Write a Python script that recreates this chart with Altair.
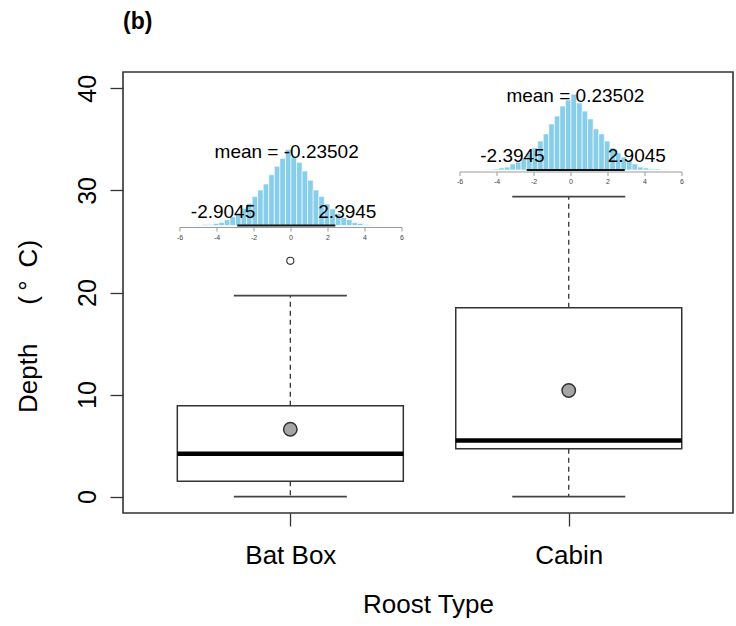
import altair as alt
import pandas as pd

# ---------------- data ----------------
groups = ["Bat Box", "Cabin"]
group_pos = [1, 2]
whisker_low = [0.0, 0.0]
box_q1 = [1.5, 4.7]
box_median = [4.2, 5.5]
box_q3 = [8.9, 18.5]
whisker_high = [19.7, 29.4]
group_mean = [6.6, 10.4]
outlier_pos = [1]
outlier_depth = [23.1]
y_ticks = [0, 10, 20, 30, 40]

# bootstrap distributions of the difference (insets)
boot_mean = [-0.23502, 0.23502]
ci_low = [-2.9045, -2.3945]
ci_high = [2.3945, 2.9045]
inset_ticks = [-6, -4, -2, 0, 2, 4, 6]
bin_width = 0.3
bat_bin_left = [-5.4, -5.1, -4.8, -4.5, -4.2, -3.9, -3.6, -3.3, -3.0, -2.7, -2.4, -2.1,
                -1.8, -1.5, -1.2, -0.9, -0.6, -0.3, 0.0, 0.3, 0.6, 0.9, 1.2, 1.5,
                1.8, 2.1, 2.4, 2.7, 3.0, 3.3, 3.6, 3.9, 4.2, 4.5]
bat_density = [0.001, 0.002, 0.004, 0.004, 0.008, 0.012, 0.022, 0.033, 0.048, 0.065, 0.084, 0.110,
               0.135, 0.158, 0.193, 0.225, 0.255, 0.288, 0.262, 0.240, 0.207, 0.172, 0.135, 0.110,
               0.082, 0.063, 0.045, 0.030, 0.022, 0.011, 0.008, 0.004, 0.002, 0.001]
cabin_bin_left = [-4.8, -4.5, -4.2, -3.9, -3.6, -3.3, -3.0, -2.7, -2.4, -2.1, -1.8, -1.5,
                  -1.2, -0.9, -0.6, -0.3, 0.0, 0.3, 0.6, 0.9, 1.2, 1.5, 1.8, 2.1,
                  2.4, 2.7, 3.0, 3.3, 3.6, 3.9, 4.2, 4.5, 4.8, 5.1]
cabin_density = [0.001, 0.002, 0.004, 0.008, 0.011, 0.023, 0.030, 0.046, 0.065, 0.084, 0.110, 0.137,
                 0.175, 0.205, 0.243, 0.266, 0.288, 0.255, 0.224, 0.194, 0.156, 0.137, 0.110, 0.084,
                 0.065, 0.049, 0.034, 0.023, 0.011, 0.008, 0.004, 0.004, 0.002, 0.001]

# ---------------- layout / style ----------------
W, H = 610, 441
FONT = "Liberation Sans"
LINE = "#333333"
BOX_PX = 226
CAP_PX = 113

xs = alt.Scale(domain=[0.417, 2.572], nice=False, zero=False)
ys = alt.Scale(domain=[-1.6, 41.6], nice=False, zero=False)

label_expr = " : ".join(
    [f"datum.value == {p} ? '{g}'" for p, g in zip(group_pos[:-1], groups[:-1])] + [f"'{groups[-1]}'"]
)

y_title = "Depth\u2003\u2002(\u2009°\u2002C)"

x_axis = alt.Axis(values=group_pos, labelExpr=label_expr, grid=False, domain=False,
                  tickSize=13, tickColor=LINE, tickWidth=1.3, labelFontSize=26, labelColor="black",
                  labelFont=FONT, labelBaseline="alphabetic", labelPadding=37,
                  title="Roost Type", titleFontSize=26, titleFontWeight="normal", titleFont=FONT,
                  titleColor="black", titleBaseline="alphabetic", titleY=99)
y_axis = alt.Axis(values=y_ticks, grid=False, domain=False, tickSize=13, tickColor=LINE,
                  tickWidth=1.3, labelFontSize=25, labelColor="black", labelFont=FONT,
                  labelAngle=270, labelAlign="center", labelBaseline="alphabetic", labelPadding=15,
                  title=y_title, titleFontSize=26, titleFontWeight="normal", titleFont=FONT,
                  titleColor="black", titleAngle=270, titleAlign="center", titleBaseline="middle",
                  titleX=-95, titleY=254)


def X(field):
    return alt.X(f"{field}:Q", scale=xs, axis=x_axis)


def Y(field):
    return alt.Y(f"{field}:Q", scale=ys, axis=y_axis)


box_df = pd.DataFrame({
    "group": groups, "pos": group_pos, "lo": whisker_low, "q1": box_q1,
    "med": box_median, "q3": box_q3, "hi": whisker_high, "mean": group_mean,
})
whisk_df = pd.DataFrame({
    "pos": group_pos + group_pos,
    "from": box_q3 + box_q1,
    "to": whisker_high + whisker_low,
})
cap_df = pd.DataFrame({"pos": group_pos + group_pos, "cap": whisker_high + whisker_low})
out_df = pd.DataFrame({"pos": outlier_pos, "depth": outlier_depth})

whiskers = alt.Chart(whisk_df).mark_rule(color=LINE, strokeWidth=1.3, strokeDash=[5, 4]).encode(
    x=X("pos"), y=Y("from"), y2="to")
boxes = alt.Chart(box_df).mark_bar(fill="white", stroke=LINE, strokeWidth=1.5, size=BOX_PX).encode(
    x=X("pos"), y=Y("q1"), y2="q3")
medians = alt.Chart(box_df).mark_tick(orient="horizontal", size=BOX_PX, thickness=4.5,
                                       color="black", opacity=1).encode(x=X("pos"), y=Y("med"))
caps = alt.Chart(cap_df).mark_tick(orient="horizontal", size=CAP_PX, thickness=1.8,
                                    color="#444444", opacity=1).encode(x=X("pos"), y=Y("cap"))
means = alt.Chart(box_df).mark_circle(size=180, color="#a6a6a6", stroke=LINE, strokeWidth=1.5,
                                      opacity=1).encode(x=X("pos"), y=Y("mean"))
outliers = alt.Chart(out_df).mark_point(shape="circle", size=50, filled=False, stroke=LINE,
                                        strokeWidth=1.1, opacity=1).encode(x=X("pos"), y=Y("depth"))

main = alt.layer(whiskers, boxes, medians, caps, means, outliers)


def inset(bin_left, density, idx, x_range, base_px):
    hist_df = pd.DataFrame({"left": bin_left, "density": density})
    hist_df["right"] = hist_df["left"] + bin_width
    hist_df["base"] = 0.0
    summ_df = pd.DataFrame({
        "mean": [boot_mean[idx]], "lo": [ci_low[idx]], "hi": [ci_high[idx]], "base": [0.0],
        "amin": [inset_ticks[0]], "amax": [inset_ticks[-1]],
        "mean_label": [f"mean = {boot_mean[idx]}"],
        "lo_label": [f"{ci_low[idx]}"], "hi_label": [f"{ci_high[idx]}"],
    })
    tick_df = pd.DataFrame({"tick": inset_ticks, "label": [str(t) for t in inset_ticks], "base": 0.0})
    isx = alt.Scale(domain=[-6, 6], range=x_range, nice=False, zero=False)
    isy = alt.Scale(domain=[0, 0.3], range=[base_px, base_px - 78.9], nice=False, zero=False)

    def ix(field):
        return alt.X(f"{field}:Q", scale=isx, axis=None, title=None)

    yi = alt.Y("base:Q", scale=isy, axis=None)

    bars = alt.Chart(hist_df).mark_bar(color="#87CEEB", stroke="white", strokeWidth=0.6).encode(
        x=ix("left"), x2="right",
        y=alt.Y("density:Q", scale=isy, axis=None), y2="base",
    )
    axis_line = alt.Chart(summ_df).mark_rule(color="#9a9a9a", strokeWidth=1, yOffset=2).encode(
        x=ix("amin"), x2="amax", y=yi)
    axis_ticks = alt.Chart(tick_df).mark_tick(orient="vertical", size=4, thickness=1,
                                              color="#9a9a9a", opacity=1, yOffset=4).encode(
        x=ix("tick"), y=yi)
    axis_labels = alt.Chart(tick_df).mark_text(font=FONT, fontSize=7, color="#444444",
                                               baseline="alphabetic", dy=14).encode(
        x=ix("tick"), y=yi, text="label:N")
    ci = alt.Chart(summ_df).mark_rule(color="#111111", strokeWidth=2).encode(x=ix("lo"), x2="hi", y=yi)
    txt = dict(font=FONT, fontSize=19, color="black", baseline="alphabetic")
    mean_t = alt.Chart(summ_df).mark_text(align="center", dy=-68, **txt).encode(
        x=ix("mean"), y=yi, text="mean_label:N")
    lo_t = alt.Chart(summ_df).mark_text(align="right", dx=18, dy=-8, **txt).encode(
        x=ix("lo"), y=yi, text="lo_label:N")
    hi_t = alt.Chart(summ_df).mark_text(align="left", dx=-17, dy=-8, **txt).encode(
        x=ix("hi"), y=yi, text="hi_label:N")
    return alt.layer(axis_line, axis_ticks, axis_labels, bars, ci, mean_t, lo_t, hi_t)


bat_inset = inset(bat_bin_left, bat_density, 0, [57, 279], 153.5)
cabin_inset = inset(cabin_bin_left, cabin_density, 1, [337, 559], 98)

chart = alt.layer(main, bat_inset, cabin_inset).resolve_scale(
    x="independent", y="independent"
).properties(
    width=W, height=H,
    autosize=alt.AutoSizeParams(type="none"),
    padding={"left": 123, "top": 72, "right": 3, "bottom": 113},
    title=alt.TitleParams("(b)", anchor="start", frame="group", fontSize=23, fontWeight="bold",
                          font=FONT, color="black", baseline="alphabetic", offset=20),
).configure(background="white").configure_view(stroke=LINE, strokeWidth=1.6)

chart.save("out.html", embed_options={"renderer": "svg", "actions": False})
